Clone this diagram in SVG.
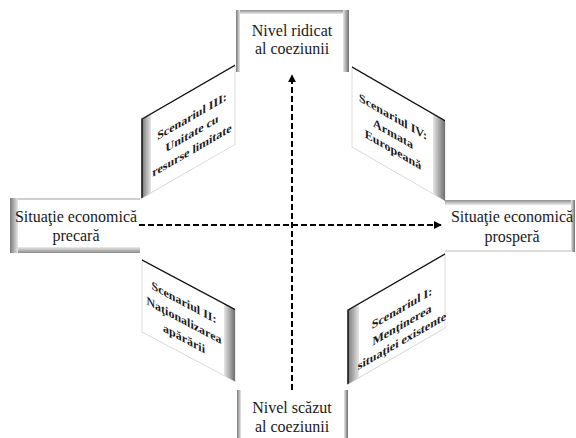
<svg xmlns="http://www.w3.org/2000/svg" width="576" height="438" viewBox="0 0 576 438">
<defs>
<linearGradient id="gL" x1="0" y1="0" x2="1" y2="0"><stop offset="0" stop-color="#7a7a7a"/><stop offset="1" stop-color="#e6e6e6"/></linearGradient>
<linearGradient id="gR" x1="0" y1="0" x2="1" y2="0"><stop offset="0" stop-color="#e6e6e6"/><stop offset="1" stop-color="#6e6e6e"/></linearGradient>
<linearGradient id="gT" x1="0" y1="0" x2="0" y2="1"><stop offset="0" stop-color="#8e8e8e"/><stop offset="1" stop-color="#ececec"/></linearGradient>
<linearGradient id="gB" x1="0" y1="0" x2="0" y2="1"><stop offset="0" stop-color="#ececec"/><stop offset="1" stop-color="#8a8a8a"/></linearGradient>
<marker id="ah" viewBox="0 0 10 10" refX="9" refY="5" markerWidth="4" markerHeight="4" orient="auto" markerUnits="strokeWidth"><path d="M0,0 L10,5 L0,10 Z" fill="#000"/></marker>
<style>
.bt{font-family:"Liberation Serif","Times New Roman",serif;font-size:16px;fill:#1a1a1a;text-anchor:middle}
.pt{font-family:"Liberation Serif","Times New Roman",serif;font-size:12px;font-weight:bold;fill:#1a1a1a;text-anchor:middle}
.face{fill:#fff;stroke:#d4d4d4;stroke-width:0.8}
.edge{fill:none;stroke:#111;stroke-width:1.5}
.ax{fill:none;stroke:#000;stroke-width:2;stroke-dasharray:6 3}
</style>
</defs>
<rect width="576" height="438" fill="#fff"/>

<g id="panel-III" transform="translate(142,119) skewY(-30)">
<rect class="face" x="0" y="0" width="93" height="79"/>
<rect x="0" y="0" width="9" height="79" fill="url(#gL)"/>
<path class="edge" d="M0,79 V0 H93"/>
<text class="pt" x="50" y="30">Scenariul III:</text>
<text class="pt" x="50" y="47">Unitate cu</text>
<text class="pt" x="50" y="64">resurse limitate</text>
</g>

<g id="panel-IV" transform="translate(352,67) skewY(30)">
<rect class="face" x="0" y="0" width="93" height="80"/>
<rect x="81" y="0" width="12" height="80" fill="url(#gR)"/>
<path class="edge" d="M0,0 H93"/>
<text class="pt" x="41" y="30">Scenariul IV:</text>
<text class="pt" x="41" y="47">Armata</text>
<text class="pt" x="41" y="63">Europeană</text>
</g>

<g id="panel-II" transform="translate(142,260) skewY(28)">
<rect class="face" x="0" y="0" width="93" height="72"/>
<rect x="82" y="0" width="11" height="72" fill="url(#gR)"/>
<path class="edge" d="M0,0 H93"/>
<text class="pt" x="42" y="24">Scenariul II:</text>
<text class="pt" x="42" y="42">Naţionalizarea</text>
<text class="pt" x="42" y="60">apărării</text>
</g>

<g id="panel-I" transform="translate(348,310) skewY(-30)">
<rect class="face" x="0" y="0" width="97" height="74"/>
<rect x="0" y="0" width="11" height="74" fill="url(#gL)"/>
<path class="edge" d="M0,74 V0 H97"/>
<text class="pt" x="54" y="33">Scenariul I:</text>
<text class="pt" x="54" y="50">Menţinerea</text>
<text class="pt" x="54" y="66">situaţiei existente</text>
</g>

<g id="box-top">
<rect x="236" y="10" width="113" height="62" fill="#fff"/>
<rect x="236" y="10" width="113" height="4" fill="url(#gT)"/>
<rect x="236" y="10" width="4" height="62" fill="url(#gL)"/>
<rect x="343" y="10" width="6" height="62" fill="url(#gR)"/>
<text class="bt" x="292" y="36">Nivel ridicat</text>
<text class="bt" x="292" y="54">al coeziunii</text>
</g>

<g id="box-left">
<rect x="10" y="198" width="130" height="55" fill="#fff"/>
<rect x="10" y="198" width="130" height="2" fill="#cfcfcf"/>
<rect x="10" y="247" width="130" height="6" fill="url(#gB)"/>
<rect x="10" y="198" width="8" height="55" fill="url(#gL)"/>
<text class="bt" x="76" y="222">Situaţie economică</text>
<text class="bt" x="76" y="241">precară</text>
</g>

<g id="box-right">
<rect x="445" y="200" width="130" height="52" fill="#fff"/>
<rect x="445" y="200" width="130" height="5" fill="url(#gT)"/>
<rect x="445" y="250" width="130" height="2" fill="#dcdcdc"/>
<rect x="571" y="200" width="4" height="52" fill="url(#gR)"/>
<text class="bt" x="512" y="222">Situaţie economică</text>
<text class="bt" x="512" y="242">prosperă</text>
</g>

<g id="box-bottom">
<rect x="237" y="390" width="111" height="48" fill="#fff"/>
<rect x="237" y="390" width="4" height="48" fill="url(#gL)"/>
<rect x="344" y="390" width="4" height="48" fill="url(#gR)"/>
<text class="bt" x="292" y="413">Nivel scăzut</text>
<text class="bt" x="292" y="432">al coeziunii</text>
</g>

<g id="connectors">
<path class="ax" d="M292,390 V75" marker-end="url(#ah)"/>
<path class="ax" d="M139,225 H441" marker-end="url(#ah)"/>
</g>
</svg>
